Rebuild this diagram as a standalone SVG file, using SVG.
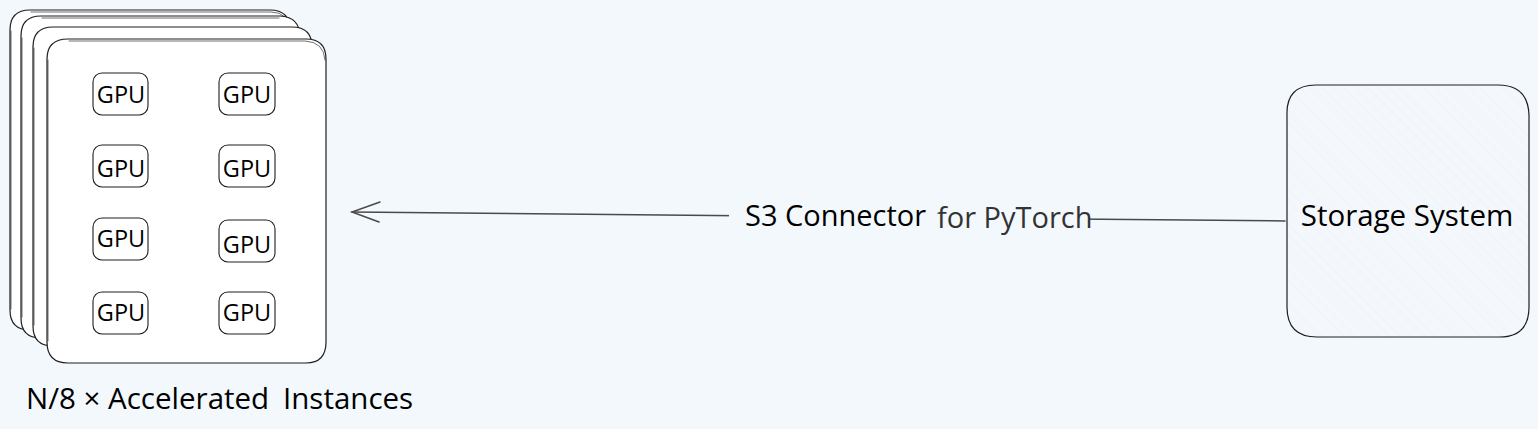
<svg xmlns="http://www.w3.org/2000/svg" width="1538" height="429" viewBox="0 0 1538 429">
<defs>
<style>
.sk{fill:#ffffff;stroke:#1e1e1e;stroke-width:1.2;stroke-linecap:round;stroke-linejoin:round}
.sk2{fill:none;stroke:#1e1e1e;stroke-width:0.8;stroke-linecap:round;opacity:0.8}
.gpu{fill:#ffffff;stroke:#1e1e1e;stroke-width:1.1}
.gt{font-family:"Open Sans","Noto Sans",sans-serif;font-size:23.5px;fill:#000;text-anchor:middle}
.lbl{font-family:"Open Sans","Noto Sans",sans-serif;font-size:29px;fill:#000}
.conn{fill:none;stroke:#4a4a4a;stroke-width:1.5;stroke-linecap:round}
</style>
<pattern id="hatch" width="8" height="8" patternUnits="userSpaceOnUse" patternTransform="rotate(-45)">
<rect width="8" height="8" fill="#f4f8fc"/>
<line x1="0" y1="0" x2="0" y2="8" stroke="#eaf0f6" stroke-width="1"/>
</pattern>
</defs>
<rect width="1538" height="429" fill="#f3f8fd"/>

<g id="instances">
<path class="sk" d="M30 10 H270 Q290 10 290 30 V310 Q290 330 270 330 H30 Q10 330 10 310 V30 Q10 10 30 10 Z"/>
<path class="sk2" d="M31 12 H271 Q289 12 289 31 M11 31 V309"/>
<path class="sk" d="M41 16 H280 Q300 17 300 37 V318 Q300 338 280 338 H41 Q21 338 21 318 V36 Q21 16 41 16 Z"/>
<path class="sk2" d="M22 38 V317 M42 18 H279"/>
<path class="sk" d="M53 27 H292 Q312 27 312 47 V326 Q312 346 292 346 H53 Q33 346 33 326 V47 Q33 27 53 27 Z"/>
<path class="sk2" d="M34 48 V325"/>
<g id="front">
<path class="sk" d="M68 39 H306 Q326 39 326 59 V342 Q326 363 306 363 H68 Q47 363 47 342 V59 Q47 39 68 39 Z"/>
<path class="sk2" d="M48 60 V341 M69 41 H305 Q324 42 325 60"/>
</g>
</g>

<g id="gpu1"><rect class="gpu" x="93" y="73" width="55" height="42" rx="9"/><text class="gt" x="121" y="103">GPU</text></g>
<g id="gpu2"><rect class="gpu" x="219" y="73" width="56" height="42" rx="9"/><text class="gt" x="247" y="103">GPU</text></g>
<g id="gpu3"><rect class="gpu" x="93" y="145" width="55" height="42" rx="9"/><text class="gt" x="121" y="177">GPU</text></g>
<g id="gpu4"><rect class="gpu" x="219" y="145" width="56" height="42" rx="9"/><text class="gt" x="247" y="177">GPU</text></g>
<g id="gpu5"><rect class="gpu" x="93" y="218" width="55" height="42" rx="9"/><text class="gt" x="121" y="247">GPU</text></g>
<g id="gpu6"><rect class="gpu" x="219" y="220" width="56" height="42" rx="9"/><text class="gt" x="247" y="253">GPU</text></g>
<g id="gpu7"><rect class="gpu" x="93" y="292" width="55" height="42" rx="9"/><text class="gt" x="121" y="321">GPU</text></g>
<g id="gpu8"><rect class="gpu" x="219" y="292" width="56" height="42" rx="9"/><text class="gt" x="247" y="321">GPU</text></g>

<g id="instances-label"><text class="lbl" x="26" y="409" style="font-size:29.5px">N/8 × Accelerated <tspan x="283">Instances</tspan></text></g>

<g id="storage">
<path d="M1316 85 H1498 Q1528 85 1529 115 V307 Q1529 337 1499 337 H1317 Q1287 337 1287 307 V115 Q1286 85 1316 85 Z" fill="url(#hatch)" stroke="#1e1e1e" stroke-width="1.2"/>
<text class="lbl" x="1407" y="226" text-anchor="middle" style="font-size:29.5px">Storage System</text>
</g>

<g id="connectors">
<path class="conn" d="M1285 221 L352 212"/>
<path class="conn" d="M380 202 L352 212 L379 222"/>
<rect x="729" y="198" width="360" height="36" fill="#f3f8fd"/>
<text class="lbl" x="745" y="226">S3 Connector</text>
<text class="lbl" x="937" y="228" style="fill:#333333">for PyTorch</text>
</g>
</svg>
